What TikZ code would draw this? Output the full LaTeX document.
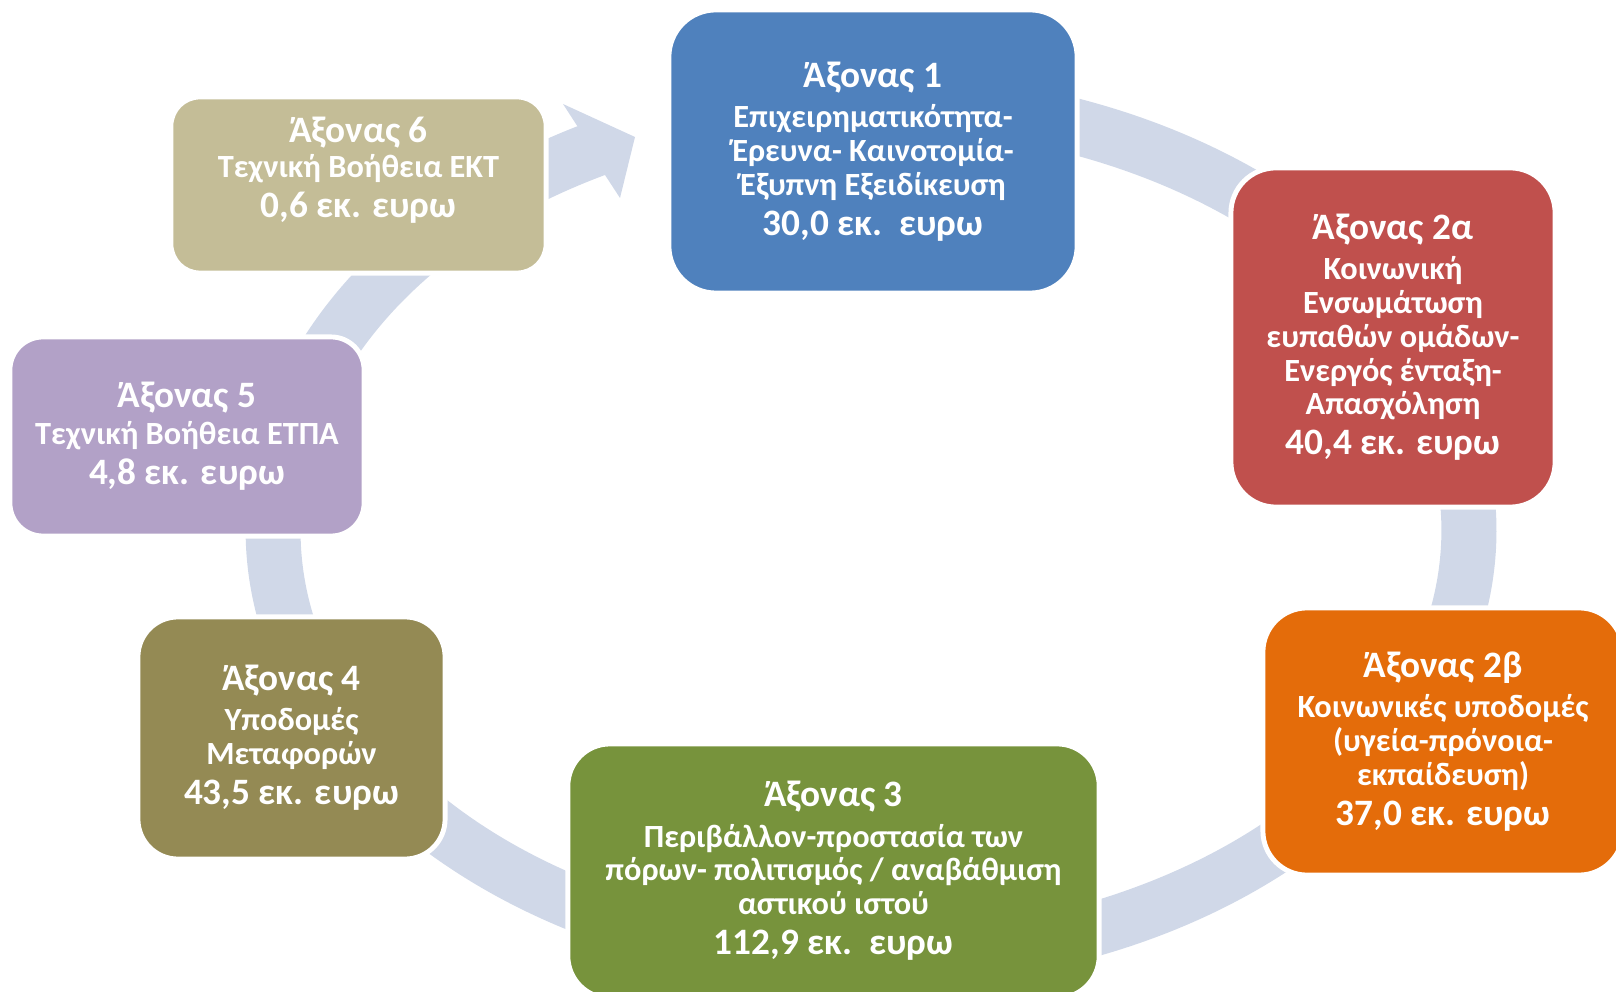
\documentclass[tikz,border=0pt]{standalone}
\usepackage{fontspec}
\setmainfont{Carlito}
\usetikzlibrary{calc}
\definecolor{ringc}{HTML}{D0D8E8}
\definecolor{c1}{HTML}{4F81BD}
\definecolor{c2a}{HTML}{C0504D}
\definecolor{c2b}{HTML}{E46C0A}
\definecolor{c3}{HTML}{77933C}
\definecolor{c4}{HTML}{948A54}
\definecolor{c5}{HTML}{B2A1C7}
\definecolor{c6}{HTML}{C4BD97}
\newcommand\axtitle{\fontsize{10.6pt}{12pt}\selectfont}
\newcommand\axbody{\fontsize{9.2pt}{9.6pt}\selectfont}
\begin{document}
\begin{tikzpicture}[x=0.01cm,y=0.01cm,
  axbox/.style={draw=white, line width=1.4pt, text=white, align=center,
    inner sep=0pt, font=\bfseries\axbody},
  axtext/.style={text=white, align=center, inner sep=0pt, font=\bfseries\axbody}]
\useasboundingbox (0,0) rectangle (1616,-992);
\coordinate (C) at (871,-530);
% circular arrow ring
\fill[ringc] ($(C)+(100:6.25cm and 4.57cm)$)
  arc[start angle=100, end angle=-242, x radius=6.25cm, y radius=4.57cm]
  -- (563,-104) -- (635,-137) -- (620,-198) -- (605,-175)
  arc[start angle=-242.2, end angle=100, x radius=5.70cm, y radius=4.02cm]
  -- cycle;
% boxes
\node[axbox, fill=c1, minimum width=4.08cm, minimum height=2.83cm, rounded corners=0.47cm] (n1) at (873,-151.5)
  {{\axtitle Άξονας 1}\\[1.8pt] Επιχειρηματικότητα-\\ Έρευνα- Καινοτομία-\\ Έξυπνη Εξειδίκευση\\[1.8pt] {\axtitle 30,0 εκ.~~ευρω}};
\node[axbox, fill=c2a, minimum width=3.24cm, minimum height=3.39cm, rounded corners=0.45cm] (n2a) at (1393,-337.5)
  {{\axtitle Άξονας 2α}\\[1.8pt] Κοινωνική\\ Ενσωμάτωση\\ ευπαθών ομάδων-\\ Ενεργός ένταξη-\\ Απασχόληση\\[1.8pt] {\axtitle 40,4 εκ. ευρω}};
\node[axbox, fill=c2b, minimum width=3.60cm, minimum height=2.67cm, rounded corners=0.44cm] (n2b) at (1443,-741.5)
  {{\axtitle Άξονας 2β}\\[1.8pt] Κοινωνικές υποδομές\\ (υγεία-πρόνοια-\\ εκπαίδευση)\\[1.8pt] {\axtitle 37,0 εκ. ευρω}};
\node[axbox, fill=c3, minimum width=5.31cm, minimum height=2.54cm, rounded corners=0.42cm] (n3) at (833.5,-871)
  {{\axtitle Άξονας 3}\\[1.8pt] Περιβάλλον-προστασία των\\ πόρων- πολιτισμός / αναβάθμιση\\ αστικού ιστού\\[1.8pt] {\axtitle 112,9 εκ.~~ευρω}};
\node[axbox, fill=c4, minimum width=3.07cm, minimum height=2.42cm, rounded corners=0.40cm] (n4) at (291.5,-738)
  {{\axtitle Άξονας 4}\\[1.8pt] Υποδομές\\ Μεταφορών\\[1.8pt] {\axtitle 43,5 εκ. ευρω}};
\node[axbox, fill=c5, minimum width=3.54cm, minimum height=1.99cm, rounded corners=0.33cm] (n5) at (187,-436.5)
  {{\axtitle Άξονας 5}\\[0.8pt] Τεχνική Βοήθεια ΕΤΠΑ\\[1.8pt] {\axtitle 4,8 εκ. ευρω}};
\node[axbox, fill=c6, minimum width=3.75cm, minimum height=1.76cm, rounded corners=0.29cm] (n6) at (358.5,-185) {};
\node[axtext] (n6t) at ([yshift=0.15cm]n6.center)
  {{\axtitle Άξονας 6}\\[0.3pt] Τεχνική Βοήθεια ΕΚΤ\\[1.8pt] {\axtitle 0,6 εκ. ευρω}};
\end{tikzpicture}
\end{document}
